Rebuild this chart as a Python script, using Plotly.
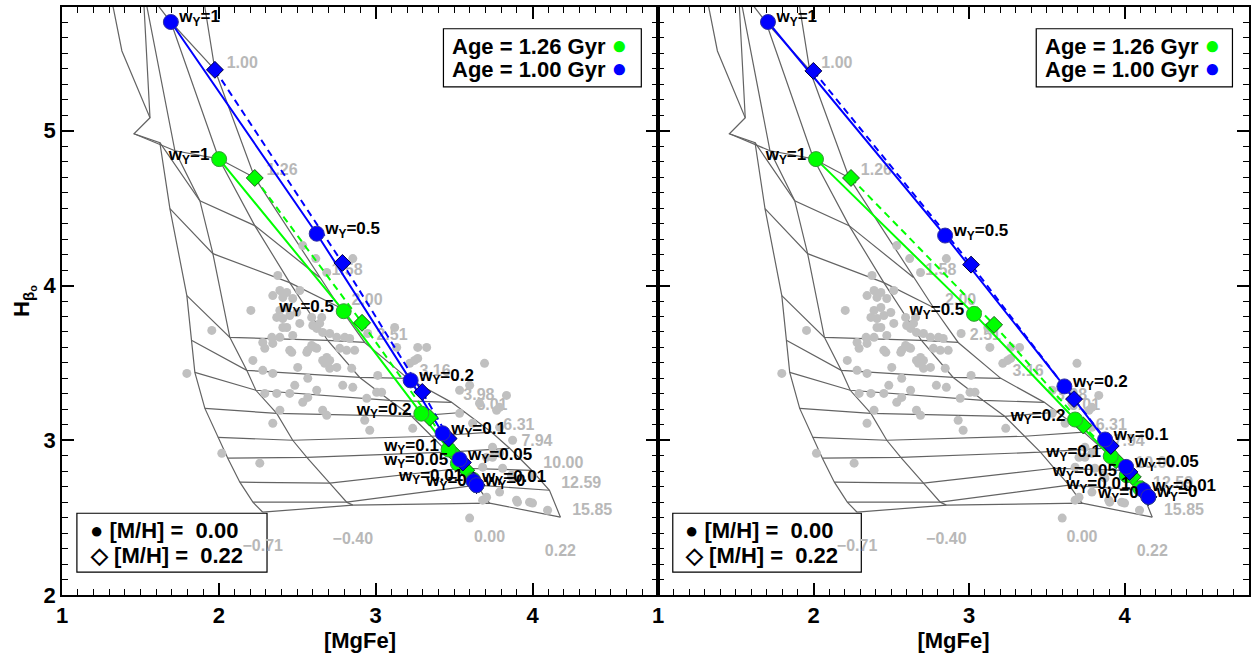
import plotly.graph_objects as go

# ---------------- data ----------------
# model grid: ages (Gyr) along each metallicity track; None = outside the plotted window
age_names = ["0.63", "0.79", "1.00", "1.26", "1.58", "2.00", "2.51", "3.16", "3.98", "5.01",
             "6.31", "7.94", "10.00", "12.59", "15.85"]
mets = ["\u22120.71", "\u22120.40", "0.00", "0.22"]

met_m071_x = [1.293, 1.382, 1.561, 1.459, 1.624, 1.688, 1.796, 1.828, 1.847, 1.911, 1.994, 2.057, 2.134, 2.217, 2.280]
met_m071_y = [5.968, 5.516, 5.084, 4.981, 4.923, 4.497, 3.935, 3.645, 3.439, 3.206, 3.019, 2.884, 2.729, 2.600, 2.535]
met_m040_x = [None, None, 1.516, 1.720, 1.879, 1.962, 2.070, 2.178, 2.236, 2.369, 2.471, 2.561, 2.707, 2.815, 2.854]
met_m040_y = [None, None, 5.935, 4.871, 4.548, 4.206, 3.665, 3.452, 3.323, 3.174, 3.000, 2.890, 2.723, 2.600, 2.581]
met_p000_x = [None, None, 1.694, 2.000, 2.229, 2.452, 2.694, 2.898, 3.089, 3.229, 3.357, 3.459, 3.548, 3.643, 3.726]
met_p000_y = [None, None, 5.703, 4.819, 4.387, 4.019, 3.645, 3.406, 3.258, 3.155, 3.026, 2.923, 2.819, 2.710, 2.594]
met_p022_x = [None, 1.879, 1.975, 2.229, 2.643, 2.771, 2.930, 3.204, 3.484, 3.567, 3.739, 3.854, 3.994, 4.108, 4.178]
met_p022_y = [None, 6.000, 5.394, 4.697, 4.052, 3.858, 3.632, 3.400, 3.245, 3.181, 3.052, 2.948, 2.806, 2.677, 2.503]

dot_x = [2.535, 2.618, 2.688, 2.854, 2.376, 2.389, 2.344, 2.433, 2.471, 2.516, 2.204, 2.389, 2.369,
         2.408, 2.433, 2.516, 2.599, 2.624, 2.643, 1.955, 2.338, 2.389, 2.471, 2.662, 2.752, 2.803,
         2.280, 2.344, 2.452, 2.561, 2.611, 2.815, 2.866, 2.217, 2.280, 2.503, 2.688, 2.707, 2.752,
         2.847, 2.344, 2.567, 1.796, 2.293, 2.369, 2.452, 2.484, 2.624, 2.790, 2.854, 2.535, 2.389,
         2.688, 2.344, 2.408, 2.433, 2.452, 2.497, 2.592, 2.656, 2.408, 2.293, 2.465, 2.592, 2.624,
         2.675, 2.707, 3.006, 3.013, 3.248, 3.134, 3.268, 2.019, 2.261, 2.930, 2.962, 3.236, 2.567,
         2.662, 2.771, 2.707, 2.834, 2.949, 3.121, 3.325, 3.268, 3.217, 3.694, 2.567, 2.662, 2.943,
         3.038, 3.535, 3.599, 3.834, 3.662, 3.535, 3.790, 3.618, 3.790, 3.873, 3.745, 3.707, 3.790,
         3.809, 3.682, 3.873, 4.000, 3.707, 3.790, 3.898, 3.981, 4.096, 3.599, 3.771, 3.866, 4.000,
         3.904, 3.745, 3.682]
dot_y = [4.258, 4.174, 4.084, 4.174, 4.065, 3.968, 3.935, 3.955, 3.916, 3.968, 3.839, 3.839, 3.794,
         3.787, 3.729, 3.755, 3.742, 3.723, 3.755, 3.710, 3.665, 3.665, 3.677, 3.697, 3.665, 3.665,
         3.632, 3.626, 3.581, 3.568, 3.600, 3.581, 3.581, 3.516, 3.452, 3.471, 3.535, 3.516, 3.471,
         3.465, 3.432, 3.400, 3.432, 3.303, 3.303, 3.303, 3.355, 3.323, 3.355, 3.342, 3.245, 3.194,
         3.161, 3.110, 3.923, 3.858, 3.806, 3.826, 3.794, 3.794, 3.729, 3.594, 3.568, 3.613, 3.594,
         3.497, 3.465, 3.310, 3.419, 3.516, 3.600, 3.600, 2.916, 2.852, 3.129, 3.065, 3.077, 3.581,
         3.516, 3.594, 3.690, 3.658, 3.690, 3.729, 3.600, 3.529, 3.497, 3.497, 3.277, 3.194, 3.271,
         3.310, 3.323, 3.355, 3.290, 3.239, 3.174, 3.213, 3.110, 3.084, 3.000, 2.955, 2.890, 2.916,
         2.819, 2.826, 2.755, 2.774, 2.632, 2.665, 2.613, 2.600, 2.548, 2.497, 3.194, 2.774, 2.594,
         2.600, 2.890, 2.613]

wy_values = ["1", "0.5", "0.2", "0.1", "0.05", "0.01", "0"]

# left panel tracks
L_blue_c_x = [1.694, 2.624, 3.223, 3.427, 3.535, 3.624, 3.643]
L_blue_c_y = [5.703, 4.335, 3.387, 3.045, 2.877, 2.735, 2.710]
L_blue_d_x = [1.975, 2.788, 3.297, 3.465, 3.556, 3.624, 3.643]
L_blue_d_y = [5.394, 4.146, 3.312, 3.011, 2.856, 2.740, 2.710]
L_green_c_x = [2.002, 2.796, 3.291, 3.465, 3.524, 3.620, 3.643]
L_green_c_y = [4.817, 3.834, 3.172, 2.940, 2.850, 2.745, 2.710]
L_green_d_x = [2.229, 2.913, 3.344, 3.488, 3.578, 3.624, 3.643]
L_green_d_y = [4.695, 3.759, 3.146, 2.925, 2.806, 2.742, 2.710]

# right panel tracks
R_blue_c_x = [1.707, 2.846, 3.613, 3.875, 4.010, 4.121, 4.153]
R_blue_c_y = [5.703, 4.323, 3.348, 3.005, 2.828, 2.677, 2.634]
R_blue_d_x = [1.999, 3.013, 3.675, 3.911, 4.031, 4.125, 4.153]
R_blue_d_y = [5.387, 4.135, 3.266, 2.963, 2.795, 2.673, 2.634]
R_green_c_x = [2.016, 3.032, 3.682, 3.911, 4.014, 4.100, 4.153]
R_green_c_y = [4.817, 3.817, 3.134, 2.897, 2.774, 2.690, 2.634]
R_green_d_x = [2.241, 3.161, 3.735, 3.945, 4.053, 4.113, 4.153]
R_green_d_y = [4.695, 3.746, 3.095, 2.871, 2.763, 2.684, 2.634]

# ---------------- styling ----------------
FONT = "Liberation Sans, Arial, Helvetica, sans-serif"
GRID_C = "#636363"
LABEL_C = "#b8b8b8"
DOT_C = "#c0c0c0"
BLUE = "#0000ff"
GREEN = "#00ff00"

met_x = [met_m071_x, met_m040_x, met_p000_x, met_p022_x]
met_y = [met_m071_y, met_m040_y, met_p000_y, met_p022_y]

# labelled ages: only those at or after 1 Gyr (younger ones lie above the window)
lab_idx = [i for i, a in enumerate(age_names) if float(a) >= 1.0]
age_lab_x = [met_p022_x[i] + 0.075 for i in lab_idx]
age_lab_y = [met_p022_y[i] + 0.04 for i in lab_idx]
age_lab_t = [age_names[i] for i in lab_idx]

fig = go.Figure()

panels = [
    ("x", "y", (L_blue_c_x, L_blue_c_y, L_blue_d_x, L_blue_d_y,
                L_green_c_x, L_green_c_y, L_green_d_x, L_green_d_y)),
    ("x2", "y2", (R_blue_c_x, R_blue_c_y, R_blue_d_x, R_blue_d_y,
                  R_green_c_x, R_green_c_y, R_green_d_x, R_green_d_y)),
]

wy_text = ["w<sub>Y</sub>=" + v for v in wy_values]
lab_font = dict(family=FONT, size=17, color="black", weight="bold")
grey_font = dict(family=FONT, size=16, color=LABEL_C, weight="bold")

for xa, ya, tr in panels:
    bcx, bcy, bdx, bdy, gcx, gcy, gdx, gdy = tr
    # metallicity lines
    for mx, my in zip(met_x, met_y):
        fig.add_trace(go.Scatter(x=mx, y=my, mode="lines", xaxis=xa, yaxis=ya,
                                 line=dict(color=GRID_C, width=1.2), hoverinfo="skip"))
    # age lines
    for i in range(len(age_names)):
        fig.add_trace(go.Scatter(x=[m[i] for m in met_x], y=[m[i] for m in met_y],
                                 mode="lines", xaxis=xa, yaxis=ya,
                                 line=dict(color=GRID_C, width=1.2), hoverinfo="skip"))
    # age labels (right end of each age line)
    fig.add_trace(go.Scatter(x=age_lab_x, y=age_lab_y, mode="text", text=age_lab_t,
                             textposition="middle right", xaxis=xa, yaxis=ya,
                             textfont=grey_font))
    # metallicity labels (below oldest age)
    fig.add_trace(go.Scatter(x=[m[-1] for m in met_x], y=[m[-1] - 0.225 for m in met_y],
                             mode="text", text=mets, textposition="middle center",
                             xaxis=xa, yaxis=ya, textfont=grey_font))
    # observed galaxies
    fig.add_trace(go.Scatter(x=dot_x, y=dot_y, mode="markers", xaxis=xa, yaxis=ya,
                             marker=dict(color=DOT_C, size=9, line=dict(width=0))))
    # tracks
    fig.add_trace(go.Scatter(x=gcx, y=gcy, mode="lines", xaxis=xa, yaxis=ya,
                             line=dict(color=GREEN, width=2)))
    fig.add_trace(go.Scatter(x=gdx, y=gdy, mode="lines", xaxis=xa, yaxis=ya,
                             line=dict(color=GREEN, width=2, dash="7px,5px")))
    fig.add_trace(go.Scatter(x=bcx, y=bcy, mode="lines", xaxis=xa, yaxis=ya,
                             line=dict(color=BLUE, width=2)))
    fig.add_trace(go.Scatter(x=bdx, y=bdy, mode="lines", xaxis=xa, yaxis=ya,
                             line=dict(color=BLUE, width=2, dash="7px,5px")))
    fig.add_trace(go.Scatter(x=gdx, y=gdy, mode="markers", xaxis=xa, yaxis=ya,
                             marker=dict(symbol="diamond", color=GREEN, size=13,
                                         line=dict(color="#1d5c1d", width=1))))
    fig.add_trace(go.Scatter(x=gcx, y=gcy, mode="markers", xaxis=xa, yaxis=ya,
                             marker=dict(symbol="circle", color=GREEN, size=15,
                                         line=dict(color="#3a9a3a", width=1))))
    fig.add_trace(go.Scatter(x=bdx, y=bdy, mode="markers", xaxis=xa, yaxis=ya,
                             marker=dict(symbol="diamond", color=BLUE, size=13,
                                         line=dict(color="#000044", width=1))))
    fig.add_trace(go.Scatter(x=bcx, y=bcy, mode="markers", xaxis=xa, yaxis=ya,
                             marker=dict(symbol="circle", color=BLUE, size=15,
                                         line=dict(color="#3030a0", width=1))))
    # labels
    fig.add_trace(go.Scatter(x=bcx, y=[v + 0.025 for v in bcy], mode="markers+text",
                             xaxis=xa, yaxis=ya, text=wy_text, textposition="middle right",
                             marker=dict(size=12, opacity=0), textfont=lab_font))
    fig.add_trace(go.Scatter(x=gcx, y=[v + 0.02 for v in gcy], mode="markers+text",
                             xaxis=xa, yaxis=ya, text=wy_text, textposition="middle left",
                             marker=dict(size=14, opacity=0), textfont=lab_font))

title_font = dict(family=FONT, size=22, color="black", weight="bold")
axis_common = dict(showline=True, linecolor="black", linewidth=1.5, mirror="allticks",
                   ticks="inside", ticklen=12, tickwidth=1.5, tickcolor="black",
                   showgrid=False, zeroline=False, automargin=False,
                   tickfont=dict(family=FONT, size=22, color="black", weight="bold"),
                   minor=dict(ticks="inside", ticklen=6, tickwidth=1.2, tickcolor="black",
                              dtick=0.1, showgrid=False))

ydom = [62 / 657, 650 / 657]
fig.update_layout(
    width=1258, height=657, margin=dict(l=0, r=0, t=0, b=0),
    template="none",
    paper_bgcolor="white", plot_bgcolor="white", showlegend=False,
    font=dict(family=FONT, color="black"),
    xaxis=dict(domain=[62 / 1258, 658 / 1258], range=[1, 4.8], dtick=1, tick0=1,
               title=dict(text="[MgFe]", font=title_font, standoff=4),
               anchor="y", **axis_common),
    xaxis2=dict(domain=[658 / 1258, 1249 / 1258], range=[1, 4.8], dtick=1, tick0=1,
                title=dict(text="[MgFe]", font=title_font, standoff=4),
                anchor="y2", **axis_common),
    yaxis=dict(domain=ydom, range=[2, 5.8], dtick=1, tick0=2, anchor="x",
               title=dict(text="H<sub>\u03b2<sub>o</sub></sub>", font=title_font, standoff=8),
               **axis_common),
    yaxis2=dict(domain=ydom, range=[2, 5.8], dtick=1, tick0=2, anchor="x2",
                showticklabels=False, **axis_common),
)

# legend boxes
leg_font = dict(family=FONT, size=22, color="black", weight="bold")
for xr, yr in [("x domain", "y domain"), ("x2 domain", "y2 domain")]:
    fig.add_shape(type="rect", xref=xr, yref=yr, x0=0.64, x1=0.972, y0=0.864, y1=0.963,
                  line=dict(color="black", width=1.2), fillcolor="white", layer="below")
    fig.add_shape(type="rect", xref=xr, yref=yr, x0=0.025, x1=0.344, y0=0.039, y1=0.139,
                  line=dict(color="black", width=1.2), fillcolor="white", layer="below")
    fig.add_annotation(xref=xr, yref=yr, x=0.651, y=0.935, xanchor="left", yanchor="middle",
                       showarrow=False,
                       text="Age = 1.26 Gyr <span style='color:#00ff00;font-size:26px'>\u25cf</span>",
                       font=leg_font)
    fig.add_annotation(xref=xr, yref=yr, x=0.651, y=0.896, xanchor="left", yanchor="middle",
                       showarrow=False,
                       text="Age = 1.00 Gyr <span style='color:#0000ff;font-size:26px'>\u25cf</span>",
                       font=leg_font)
    fig.add_annotation(xref=xr, yref=yr, x=0.043, y=0.109, xanchor="left", yanchor="middle",
                       showarrow=False, text="\u25cf [M/H] =\u00a0 0.00", font=leg_font)
    fig.add_annotation(xref=xr, yref=yr, x=0.043, y=0.068, xanchor="left", yanchor="middle",
                       showarrow=False, text="\u25c7 [M/H] =\u00a0 0.22", font=leg_font)

fig.write_html("out.html", config={"displayModeBar": False},
               post_script="document.body.style.margin='0';document.body.style.overflow='hidden';")
